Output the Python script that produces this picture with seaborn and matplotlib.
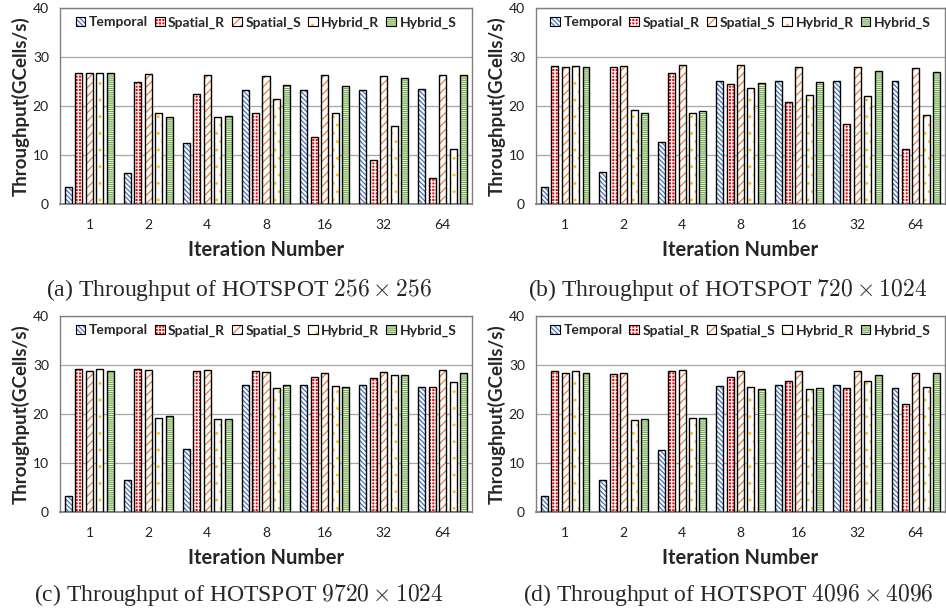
import matplotlib
matplotlib.use("Agg")
import matplotlib.pyplot as plt
import numpy as np
import pandas as pd
import seaborn as sns
from matplotlib.patches import Patch, Rectangle
from matplotlib.legend_handler import HandlerTuple

# ---------------- data ----------------
iterations = ["1", "2", "4", "8", "16", "32", "64"]
methods = ["Temporal", "Spatial_R", "Spatial_S", "Hybrid_R", "Hybrid_S"]

# (a) HOTSPOT 256 x 256
temporal_a = [3.4, 6.4, 12.4, 23.3, 23.3, 23.3, 23.5]
spatial_r_a = [26.7, 24.8, 22.4, 18.6, 13.7, 8.9, 5.4]
spatial_s_a = [26.8, 26.5, 26.3, 26.2, 26.3, 26.2, 26.3]
hybrid_r_a = [26.7, 18.6, 17.8, 21.4, 18.5, 15.9, 11.3]
hybrid_s_a = [26.8, 17.8, 18.0, 24.3, 24.0, 25.8, 26.3]

# (b) HOTSPOT 720 x 1024
temporal_b = [3.4, 6.5, 12.7, 25.2, 25.0, 25.0, 25.2]
spatial_r_b = [28.2, 28.0, 26.7, 24.5, 20.9, 16.3, 11.3]
spatial_s_b = [28.0, 28.2, 28.4, 28.4, 28.0, 28.0, 27.8]
hybrid_r_b = [28.2, 19.2, 18.6, 23.7, 22.2, 22.0, 18.1]
hybrid_s_b = [28.0, 18.6, 18.9, 24.6, 24.8, 27.1, 26.9]

# (c) HOTSPOT 9720 x 1024
temporal_c = [3.3, 6.5, 12.8, 26.0, 25.9, 26.0, 25.6]
spatial_r_c = [29.2, 29.2, 28.8, 28.8, 27.6, 27.3, 25.5]
spatial_s_c = [28.8, 29.0, 28.9, 28.6, 28.3, 28.6, 28.9]
hybrid_r_c = [29.2, 19.1, 18.9, 25.3, 25.8, 27.9, 26.6]
hybrid_s_c = [28.8, 19.6, 18.9, 25.9, 25.5, 27.9, 28.3]

# (d) HOTSPOT 4096 x 4096
temporal_d = [3.3, 6.5, 12.7, 25.7, 26.0, 25.9, 25.4]
spatial_r_d = [28.8, 28.2, 28.7, 27.6, 26.8, 25.4, 22.1]
spatial_s_d = [28.4, 28.4, 29.0, 28.7, 28.8, 28.8, 28.4]
hybrid_r_d = [28.8, 18.8, 19.2, 25.6, 25.1, 26.8, 25.6]
hybrid_s_d = [28.4, 19.0, 19.2, 25.1, 25.3, 28.0, 28.3]

captions = [
    r"(a) Throughput of HOTSPOT $256\times256$",
    r"(b) Throughput of HOTSPOT $720\times1024$",
    r"(c) Throughput of HOTSPOT $9720\times1024$",
    r"(d) Throughput of HOTSPOT $4096\times4096$",
]
y_ticks = [0, 10, 20, 30, 40]

panels = [
    [temporal_a, spatial_r_a, spatial_s_a, hybrid_r_a, hybrid_s_a],
    [temporal_b, spatial_r_b, spatial_s_b, hybrid_r_b, hybrid_s_b],
    [temporal_c, spatial_r_c, spatial_s_c, hybrid_r_c, hybrid_s_c],
    [temporal_d, spatial_r_d, spatial_s_d, hybrid_r_d, hybrid_s_d],
]

# ---------------- style ----------------
sns.set_theme(style="white")
plt.rcParams["font.family"] = ["Lato", "DejaVu Sans"]
plt.rcParams["mathtext.fontset"] = "cm"
plt.rcParams["hatch.linewidth"] = 0.9

face = {"Temporal": "white", "Spatial_R": "#FF0000", "Spatial_S": "white",
        "Hybrid_R": "white", "Hybrid_S": "white"}
hcol = {"Temporal": "#4472C4", "Spatial_R": "white", "Spatial_S": "#ED7D31",
        "Hybrid_R": "#FFC000", "Hybrid_S": "#70AD47"}
hatch = {"Temporal": "\\" * 7, "Spatial_R": "+++++", "Spatial_S": "////",
         "Hybrid_R": "..", "Hybrid_S": "-" * 8}

fig = plt.figure(figsize=(9.46, 6.12), dpi=100)
W, H = 946.0, 612.0
boxes = [
    (60, 8, 472, 204),
    (536, 8, 945, 204),
    (60, 316, 472, 512),
    (536, 316, 945, 512),
]
cap_pos = [(239, 290), (728, 290), (239, 595), (728, 595)]

for k, (series, cap, box) in enumerate(zip(panels, captions, boxes)):
    x0, y0, x1, y1 = box
    ax = fig.add_axes([x0 / W, 1 - y1 / H, (x1 - x0) / W, (y1 - y0) / H])
    df = pd.DataFrame({
        "Iteration": np.tile(iterations, len(methods)),
        "Throughput": np.concatenate(series),
        "Method": np.repeat(methods, len(iterations)),
    })
    sns.barplot(data=df, x="Iteration", y="Throughput", hue="Method",
                order=iterations, hue_order=methods, width=0.89, gap=0.33,
                errorbar=None, saturation=1, legend=False, ax=ax, zorder=2)
    for m, cont in zip(methods, ax.containers):
        for bar in cont:
            bar.set_facecolor(face[m])
            bar.set_edgecolor(hcol[m])
            bar.set_linewidth(0)
            bar.set_hatch(hatch[m])
            ax.add_patch(Rectangle(bar.get_xy(), bar.get_width(), bar.get_height(),
                                   fill=False, edgecolor="black", linewidth=1.0,
                                   zorder=3))
    ax.set_ylim(0, 40)
    ax.set_xlim(-0.5, len(iterations) - 0.5)
    ax.set_yticks(y_ticks)
    ax.yaxis.grid(True, color="#A6A6A6", linewidth=0.9, zorder=0)
    ax.set_axisbelow(True)
    for s in ["top", "left", "right"]:
        ax.spines[s].set_color("#7F7F7F")
        ax.spines[s].set_linewidth(1.0)
    ax.spines["bottom"].set_color("#808080")
    ax.spines["bottom"].set_linewidth(1.3)
    ax.tick_params(axis="both", length=0, labelsize=10, colors="#202020")
    ax.tick_params(axis="x", pad=11)
    ax.tick_params(axis="y", pad=8)
    ax.set_ylabel("Throughput(GCells/s)", fontsize=13.5, fontweight="bold",
                  labelpad=2)
    ax.set_xlabel("Iteration Number", fontsize=14.5, fontweight="bold",
                  labelpad=6)

    handles = []
    for m in methods:
        handles.append((Patch(facecolor=face[m], edgecolor=hcol[m], hatch=hatch[m],
                              linewidth=0),
                        Patch(fill=False, edgecolor="black", linewidth=0.8)))
    ax.legend(handles, methods, loc="upper center", bbox_to_anchor=(0.5, 1.0),
              ncol=5, frameon=False, handlelength=0.7, handleheight=0.7,
              handletextpad=0.25, columnspacing=0.5, borderaxespad=0.2,
              prop={"weight": "bold", "size": 10},
              handler_map={tuple: HandlerTuple(ndivide=1)})

    cx, cy = cap_pos[k]
    fig.text(cx / W, 1 - cy / H, cap, ha="center", va="center",
             fontsize=17, family=["Liberation Serif", "DejaVu Serif"])

fig.savefig("out.png", dpi=100)
